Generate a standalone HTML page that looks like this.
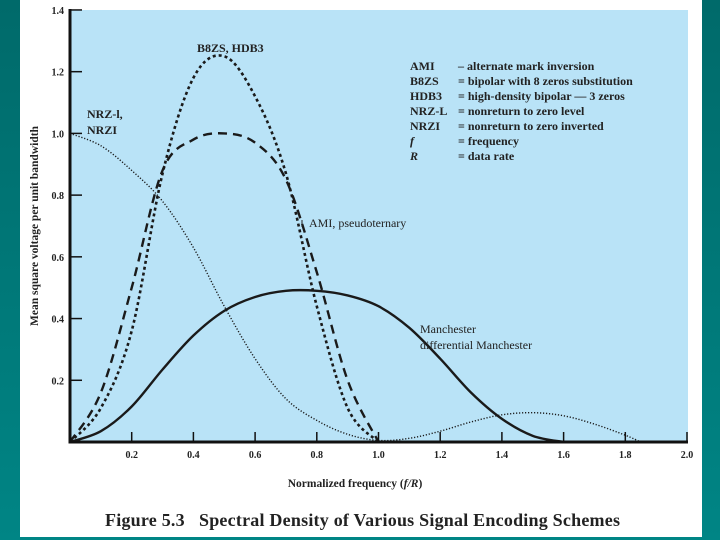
<!DOCTYPE html>
<html><head><meta charset="utf-8"><style>
html,body{margin:0;padding:0;width:720px;height:540px;overflow:hidden;background:#007272;}
svg{display:block;font-family:"Liberation Serif",serif;}
</style></head><body>
<svg width="720" height="540">
<defs><linearGradient id="tg" x1="0" x2="0" y1="0" y2="1"><stop offset="0" stop-color="#006a6a"/><stop offset="1" stop-color="#008585"/></linearGradient></defs>
<rect x="0" y="0" width="720" height="540" fill="url(#tg)"/>
<rect x="20" y="0" width="682" height="537" fill="#ffffff"/>
<rect x="70" y="10" width="618" height="432" fill="#b9e3f7"/>
<g id="curves"></g>
<g id="axes"></g>
<text x="197" y="52" font-size="12" font-weight="bold" fill="#222">B8ZS, HDB3</text>
<text x="87" y="118" font-size="12" font-weight="bold" fill="#222">NRZ-l,</text>
<text x="87" y="134" font-size="12" font-weight="bold" fill="#222">NRZI</text>
<line x1="302" y1="220" x2="302" y2="227" stroke="#222" stroke-width="1"/>
<text x="309" y="227" font-size="12" fill="#222">AMI, pseudoternary</text>
<text x="420" y="333" font-size="12" fill="#222">Manchester</text>
<text x="420" y="349" font-size="12" fill="#222">differential Manchester</text>
<g font-size="12" font-weight="bold" fill="#222">
<text x="410" y="70">AMI</text><text x="458" y="70">– alternate mark inversion</text>
<text x="410" y="85">B8ZS</text><text x="458" y="85">= bipolar with 8 zeros substitution</text>
<text x="410" y="100">HDB3</text><text x="458" y="100">= high-density bipolar — 3 zeros</text>
<text x="410" y="115">NRZ-L</text><text x="458" y="115">= nonreturn to zero level</text>
<text x="410" y="130">NRZI</text><text x="458" y="130">= nonreturn to zero inverted</text>
<text x="410" y="145" font-style="italic">f</text><text x="458" y="145">= frequency</text>
<text x="410" y="160" font-style="italic">R</text><text x="458" y="160">= data rate</text>
</g>
<text transform="translate(38,226) rotate(-90)" text-anchor="middle" font-size="11.5" font-weight="bold" fill="#222">Mean square voltage per unit bandwidth</text>
<text x="355" y="487" text-anchor="middle" font-size="11.5" font-weight="bold" fill="#222">Normalized frequency (<tspan font-style="italic">f/R</tspan>)</text>
<text x="105" y="526" font-size="18" font-weight="bold" fill="#222" textLength="515" lengthAdjust="spacing" xml:space="preserve">Figure 5.3   Spectral Density of Various Signal Encoding Schemes</text>
</svg>
<script>
const xTicks=[0.2,0.4,0.6,0.8,1.0,1.2,1.4,1.6,1.8,2.0];
const xTickLabels=["0.2","0.4","0.6","0.8","1.0","1.2","1.4","1.6","1.8","2.0"];
const yTicks=[0.2,0.4,0.6,0.8,1.0,1.2,1.4];
const yTickLabels=["0.2","0.4","0.6","0.8","1.0","1.2","1.4"];
const nrzF=[0,0.1,0.2,0.3,0.4,0.5,0.6,0.7,0.8,0.9,1.0,1.1,1.2,1.3,1.4,1.5,1.6,1.7,1.8,1.85];
const nrzV=[1.0,0.96,0.88,0.78,0.63,0.44,0.27,0.14,0.07,0.025,0.005,0.012,0.035,0.065,0.088,0.095,0.085,0.058,0.022,0.0];
const b8zsF=[0,0.1,0.2,0.3,0.4,0.5,0.6,0.7,0.8,0.9,1.0];
const b8zsV=[0,0.11,0.36,0.87,1.18,1.25,1.12,0.87,0.44,0.11,0];
const amiF=[0,0.1,0.2,0.3,0.4,0.5,0.6,0.7,0.8,0.9,1.0];
const amiV=[0,0.16,0.5,0.88,0.98,1.0,0.97,0.85,0.55,0.2,0];
const manF=[0,0.1,0.2,0.3,0.4,0.5,0.6,0.7,0.8,0.9,1.0,1.1,1.2,1.3,1.4,1.5,1.6];
const manV=[0,0.035,0.115,0.235,0.345,0.425,0.47,0.49,0.49,0.475,0.44,0.37,0.27,0.16,0.075,0.02,0];
const X=f=>70+f*308.5, Y=v=>442-v*308.6;
const NS="http://www.w3.org/2000/svg";
function pathD(fs,vs){
  const p=fs.map((f,i)=>[X(f),Y(vs[i])]);
  let d="M"+p[0][0]+","+p[0][1];
  for(let i=0;i<p.length-1;i++){
    const p0=p[Math.max(i-1,0)],p1=p[i],p2=p[i+1],p3=p[Math.min(i+2,p.length-1)];
    const c1=[p1[0]+(p2[0]-p0[0])/6,p1[1]+(p2[1]-p0[1])/6];
    const c2=[p2[0]-(p3[0]-p1[0])/6,p2[1]-(p3[1]-p1[1])/6];
    d+=" C"+c1+" "+c2+" "+p2;
  }
  return d;
}
const cg=document.getElementById('curves');
function addCurve(fs,vs,dash,w,name){
  const el=document.createElementNS(NS,'path');
  el.setAttribute('d',pathD(fs,vs));
  el.setAttribute('fill','none');el.setAttribute('stroke','#1a1a1a');
  el.setAttribute('stroke-width',w);
  if(dash)el.setAttribute('stroke-dasharray',dash);
  
  
  cg.appendChild(el);
}
addCurve(nrzF,nrzV,"1.2 1.8",1.4,'nrz-curve');
addCurve(manF,manV,null,2.4,'manchester-curve');
addCurve(amiF,amiV,"9 6",2.4,'ami-curve');
addCurve(b8zsF,b8zsV,"3 3",2.6,'b8zs-curve');
const ag=document.getElementById('axes');
function ln(x1,y1,x2,y2,w){const l=document.createElementNS(NS,'line');l.setAttribute('x1',x1);l.setAttribute('y1',y1);l.setAttribute('x2',x2);l.setAttribute('y2',y2);l.setAttribute('stroke','#111');l.setAttribute('stroke-width',w);ag.appendChild(l);return l;}
function tx(x,y,s,anchor){const t=document.createElementNS(NS,'text');t.setAttribute('x',x);t.setAttribute('y',y);t.setAttribute('font-size','10');t.setAttribute('font-weight','bold');t.setAttribute('fill','#222');t.setAttribute('text-anchor',anchor);t.textContent=s;ag.appendChild(t);return t;}
const ya=ln(70,9,70,443.5,3);


const xa=ln(68.5,442,688,442,3);


yTicks.forEach((v,i)=>{
  const l=ln(70,Y(v),82,Y(v),1.5);
  
  
  const t=tx(64,Y(v)+4,yTickLabels[i],'end');
  
  
});
xTicks.forEach((f,i)=>{
  const l=ln(X(f),432,X(f),442,1.5);
  
  
  const t=tx(X(f),458,xTickLabels[i],'middle');
  
  
});
</script>
</body></html>
